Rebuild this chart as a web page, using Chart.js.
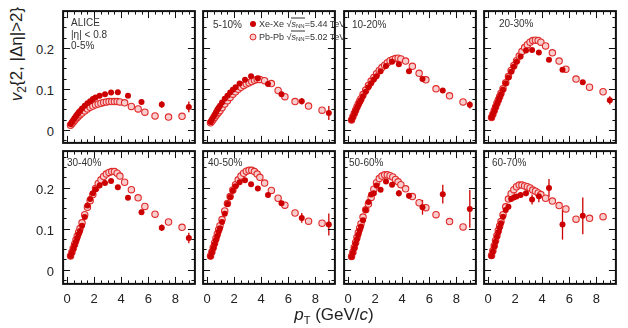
<!DOCTYPE html>
<html>
<head>
<meta charset="utf-8">
<script src="https://cdn.jsdelivr.net/npm/chart.js@4.4.1/dist/chart.umd.min.js"></script>
<style>
body { margin:0; background:#fff; width:628px; height:328px; position:relative; overflow:hidden; font-family:"Liberation Sans", Arial, sans-serif; color:#222; }
canvas { position:absolute; }
.lab { position:absolute; white-space:nowrap; line-height:1; }
.c { transform:translate(-50%,-50%); }
.r { transform:translate(-100%,-50%); text-align:right; }
.tick { font-size:13px; }
.cent { font-size:10px; color:#333; transform:translate(0,-50%); }
.leg { font-size:9px; color:#333; transform:translate(0,-50%); }
.leg sub { font-size:6px; vertical-align:-1px; }
.dot { position:absolute; width:6px; height:6px; border-radius:50%; transform:translate(-50%,-50%); }
</style>
</head>
<body>
<script>
// pT bin centres (GeV/c)
var xeBins = [0.25,0.35,0.45,0.55,0.65,0.75,0.85,0.95,1.1,1.3,1.5,1.7,1.9,2.1,2.4,2.8,3.25,3.75,4.5,5.5,7,9];
var pbBins = [0.25,0.35,0.45,0.55,0.65,0.75,0.85,0.95,1.1,1.3,1.5,1.7,1.9,2.1,2.3,2.5,2.7,2.9,3.1,3.3,3.5,3.7,3.9,4.25,4.75,5.25,5.75,6.5,7.5,8.5];

var xTickVals = [0,2,4,6,8];
var yTickVals = [0,0.1,0.2];
var yTickText = ['0','0.1','0.2'];
var centLabels = ['0-5%','5-10%','10-20%','20-30%','30-40%','40-50%','50-60%','60-70%'];

// Xe-Xe 5.44 TeV
var xe_0_5   = [0.014,0.019,0.024,0.029,0.034,0.038,0.042,0.046,0.052,0.059,0.065,0.070,0.075,0.079,0.083,0.087,0.091,0.092,0.083,0.068,0.062,0.056];
var xe_5_10  = [0.019,0.025,0.031,0.037,0.043,0.049,0.054,0.059,0.067,0.076,0.083,0.091,0.098,0.104,0.113,0.122,0.131,0.126,0.112,0.087,0.070,0.041];
var xe_10_20 = [0.024,0.031,0.039,0.046,0.053,0.060,0.067,0.073,0.082,0.093,0.104,0.114,0.123,0.131,0.143,0.156,0.166,0.160,0.143,0.124,0.096,0.061];
var xe_20_30 = [0.030,0.038,0.046,0.055,0.063,0.071,0.079,0.087,0.098,0.114,0.128,0.142,0.154,0.166,0.179,0.194,0.195,0.189,0.171,0.147,0.116,0.072];
var xe_30_40 = [0.033,0.041,0.050,0.059,0.068,0.077,0.086,0.094,0.107,0.128,0.156,0.172,0.186,0.196,0.205,0.211,0.216,0.201,0.175,0.140,0.102,0.077];
var xe_40_50 = [0.032,0.042,0.052,0.062,0.072,0.082,0.092,0.101,0.116,0.136,0.160,0.177,0.192,0.203,0.213,0.218,0.208,0.198,0.182,0.162,0.126,0.110];
var xe_50_60 = [0.031,0.041,0.052,0.063,0.074,0.085,0.095,0.105,0.120,0.145,0.165,0.183,0.186,0.205,0.195,0.215,0.207,0.186,0.180,0.152,0.184,0.148];
var xe_60_70 = [0.033,0.044,0.056,0.068,0.080,0.091,0.102,0.113,0.129,0.145,0.153,0.172,0.176,0.178,0.182,0.186,0.171,0.179,0.199,0.110,0.131,null];

var xeErr_0_5   = [0,0,0,0,0,0,0,0,0,0,0,0,0,0,0.001,0.001,0.002,0.003,0.004,0.006,0.008,0.013];
var xeErr_5_10  = [0,0,0,0,0,0,0,0,0,0,0,0,0,0,0.001,0.001,0.002,0.003,0.004,0.005,0.008,0.017];
var xeErr_10_20 = [0,0,0,0,0,0,0,0,0,0,0,0,0,0,0.001,0.002,0.002,0.003,0.004,0.005,0.005,0.009];
var xeErr_20_30 = [0,0,0,0,0,0,0,0,0,0,0,0,0,0,0.001,0.002,0.002,0.003,0.004,0.004,0.005,0.010];
var xeErr_30_40 = [0,0,0,0,0,0,0,0,0,0,0,0,0,0,0.002,0.002,0.003,0.003,0.004,0.006,0.008,0.013];
var xeErr_40_50 = [0,0,0,0,0,0,0,0,0,0,0,0,0,0,0.002,0.003,0.004,0.004,0.005,0.006,0.012,0.027];
var xeErr_50_60 = [0,0,0,0,0,0,0,0,0,0,0,0.003,0.004,0.004,0.005,0.005,0.006,0.008,0.007,0.018,0.023,0.046];
var xeErr_60_70 = [0,0,0,0,0,0,0,0,0,0,0.003,0.004,0.005,0.005,0.006,0.007,0.012,0.015,0.022,0.037,0.045,0];

// Pb-Pb 5.02 TeV
var pb_0_5   = [0.011,0.015,0.019,0.023,0.027,0.030,0.034,0.037,0.041,0.046,0.051,0.055,0.058,0.061,0.063,0.065,0.067,0.068,0.069,0.069,0.069,0.069,0.068,0.066,0.057,0.051,0.043,0.034,0.031,0.033];
var pb_5_10  = [0.017,0.021,0.026,0.030,0.035,0.039,0.043,0.047,0.054,0.063,0.071,0.079,0.087,0.093,0.099,0.104,0.108,0.112,0.115,0.118,0.121,0.123,0.123,0.120,0.113,0.096,0.081,0.069,0.058,0.048];
var pb_10_20 = [0.024,0.032,0.040,0.048,0.056,0.063,0.070,0.076,0.086,0.097,0.108,0.119,0.128,0.137,0.145,0.152,0.158,0.164,0.169,0.172,0.174,0.175,0.173,0.168,0.155,0.138,0.122,0.100,0.083,0.068];
var pb_20_30 = [0.030,0.038,0.047,0.056,0.065,0.073,0.081,0.089,0.100,0.115,0.130,0.145,0.157,0.169,0.180,0.191,0.201,0.208,0.214,0.218,0.219,0.218,0.214,0.205,0.188,0.168,0.148,0.124,0.104,0.093];
var pb_30_40 = [0.033,0.042,0.052,0.062,0.072,0.082,0.091,0.100,0.114,0.134,0.152,0.168,0.183,0.198,0.210,0.219,0.227,0.233,0.237,0.239,0.239,0.235,0.228,0.213,0.195,0.175,0.154,0.135,0.116,0.103];
var pb_40_50 = [0.033,0.043,0.054,0.065,0.076,0.087,0.097,0.107,0.122,0.143,0.161,0.178,0.194,0.207,0.219,0.228,0.235,0.240,0.242,0.242,0.239,0.233,0.225,0.211,0.193,0.174,0.157,0.138,0.118,0.113];
var pb_50_60 = [0.032,0.042,0.054,0.066,0.078,0.090,0.101,0.112,0.128,0.146,0.160,0.176,0.196,0.212,0.222,0.228,0.231,0.231,0.229,0.226,0.220,0.214,0.207,0.197,0.178,0.163,0.151,0.134,0.117,0.104];
var pb_60_70 = [0.034,0.046,0.058,0.071,0.083,0.095,0.106,0.117,0.134,0.153,0.172,0.185,0.195,0.202,0.206,0.206,0.204,0.202,0.199,0.194,0.191,0.187,0.183,0.174,0.167,0.156,0.148,0.123,0.125,0.129];

var xeSets = [xe_0_5, xe_5_10, xe_10_20, xe_20_30, xe_30_40, xe_40_50, xe_50_60, xe_60_70];
var xeErrs = [xeErr_0_5, xeErr_5_10, xeErr_10_20, xeErr_20_30, xeErr_30_40, xeErr_40_50, xeErr_50_60, xeErr_60_70];
var pbSets = [pb_0_5, pb_5_10, pb_10_20, pb_20_30, pb_30_40, pb_40_50, pb_50_60, pb_60_70];

var colLeft = [59, 199, 340, 480];
var colW = 140;
var rowTop = [7, 147];
var rowH = [140, 141];
var yRange = [[-0.032, 0.29], [-0.035, 0.289]];

function addLabel(html, x, y, cls) {
  var d = document.createElement('div');
  d.className = 'lab ' + cls;
  d.style.left = x + 'px';
  d.style.top = y + 'px';
  d.innerHTML = html;
  document.body.appendChild(d);
  return d;
}

var framePlugin = {
  id: 'frame',
  beforeDatasetsDraw(chart) {
    var ctx = chart.ctx, xs = chart.scales.x, ys = chart.scales.y;
    chart.data.datasets.forEach((ds) => {
      if (!ds.errs) return;
      ctx.save();
      ctx.strokeStyle = ds.borderColor;
      ctx.lineWidth = 1.3;
      ds.data.forEach((p, j) => {
        var e = ds.errs[j];
        if (p.y == null || !e) return;
        var px = xs.getPixelForValue(p.x);
        ctx.beginPath();
        ctx.moveTo(px, ys.getPixelForValue(p.y - e));
        ctx.lineTo(px, ys.getPixelForValue(p.y + e));
        ctx.stroke();
      });
      ctx.restore();
    });
  },
  afterDraw(chart) {
    var ctx = chart.ctx, a = chart.chartArea, xs = chart.scales.x, ys = chart.scales.y;
    ctx.save();
    ctx.strokeStyle = '#111';
    ctx.lineWidth = 1;
    ctx.beginPath();
    for (var k = 0; k <= 19; k++) {
      var v = k * 0.5;
      if (v > xs.max) break;
      var px = Math.round(xs.getPixelForValue(v)) + 0.5;
      var len = (k % 4 == 0) ? 7 : 3.5;
      ctx.moveTo(px, a.bottom); ctx.lineTo(px, a.bottom - len);
      ctx.moveTo(px, a.top); ctx.lineTo(px, a.top + len);
    }
    for (var k = -1; k <= 11; k++) {
      var v = k * 0.025;
      if (v < ys.min || v > ys.max) continue;
      var py = Math.round(ys.getPixelForValue(v)) + 0.5;
      var len = (k % 4 == 0) ? 7 : 3.5;
      ctx.moveTo(a.left, py); ctx.lineTo(a.left + len, py);
      ctx.moveTo(a.right, py); ctx.lineTo(a.right - len, py);
    }
    ctx.stroke();
    ctx.lineWidth = 2;
    ctx.strokeRect(a.left, a.top, a.right - a.left, a.bottom - a.top);
    ctx.restore();
  }
};

function makePanel(i) {
  var row = Math.floor(i / 4), col = i % 4;
  var cLeft = colLeft[col] - 1, cTop = rowTop[row] - 1;
  var cv = document.createElement('canvas');
  cv.width = colW + 2;
  cv.height = rowH[row] + 2;
  cv.style.left = cLeft + 'px';
  cv.style.top = cTop + 'px';
  cv.style.width = cv.width + 'px';
  cv.style.height = cv.height + 'px';
  document.body.appendChild(cv);

  var xeData = xeBins.map((x, j) => ({ x: x, y: xeSets[i][j] }));
  var pbData = pbBins.map((x, j) => ({ x: x, y: pbSets[i][j] }));

  var chart = new Chart(cv, {
    type: 'scatter',
    data: {
      datasets: [
        {
          label: 'Xe-Xe',
          data: xeData,
          errs: xeErrs[i],
          pointRadius: 3,
          backgroundColor: '#cc0000',
          borderColor: '#cc0000',
          borderWidth: 0
        },
        {
          label: 'Pb-Pb',
          data: pbData,
          pointRadius: 3.2,
          backgroundColor: '#f8cdcd',
          borderColor: '#e02a2a',
          borderWidth: 1.1
        }
      ]
    },
    options: {
      responsive: false,
      animation: false,
      devicePixelRatio: 1,
      events: [],
      layout: { padding: 1 },
      plugins: { legend: { display: false }, tooltip: { enabled: false } },
      scales: {
        x: { type: 'linear', min: -0.3, max: 9.45, display: false },
        y: { type: 'linear', min: yRange[row][0], max: yRange[row][1], display: false }
      }
    },
    plugins: [framePlugin]
  });

  if (row == 1) {
    xTickVals.forEach((v) => {
      addLabel(String(v), cLeft + chart.scales.x.getPixelForValue(v), 298, 'tick c');
    });
  }
  if (col == 0) {
    yTickVals.forEach((v, j) => {
      addLabel(yTickText[j], 54, cTop + chart.scales.y.getPixelForValue(v) + 1, 'tick r');
    });
  }
}

for (var i = 0; i < 8; i++) makePanel(i);

// centrality labels
var centPos = [[71,46],[213,25],[352,25],[499,24],[67,163],[208,163],[349,163],[492,163]];
centLabels.forEach((t, i) => {
  addLabel(t, centPos[i][0], centPos[i][1], 'cent');
});
addLabel('ALICE', 71, 23, 'cent');
addLabel('|&eta;| &lt; 0.8', 71, 34.5, 'cent');

// legend
var d1 = document.createElement('div');
d1.className = 'dot';
d1.style.cssText += 'left:253px;top:23.5px;background:#cc0000;';
document.body.appendChild(d1);
var d2 = document.createElement('div');
d2.className = 'dot';
d2.style.cssText += 'left:253px;top:36.5px;background:#f8cdcd;border:1.1px solid #e02a2a;width:5px;height:5px;';
document.body.appendChild(d2);
addLabel('Xe-Xe &radic;<span style="border-top:1px solid #333"><i>s</i><sub>NN</sub></span>=5.44 TeV', 259, 23.5, 'leg');
addLabel('Pb-Pb &radic;<span style="border-top:1px solid #333"><i>s</i><sub>NN</sub></span>=5.02 TeV', 259, 36.5, 'leg');

// axis titles
var yt = addLabel('<i>v</i><sub style="font-size:12px">2</sub>{2, |&Delta;&eta;|&gt;2}', 18, 54, '');
yt.style.fontSize = '17px';
yt.style.transform = 'translate(-50%,-50%) rotate(-90deg)';
var xt = addLabel('<i>p</i><sub style="font-size:11px">T</sub> (GeV/<i>c</i>)', 334, 316, 'c');
xt.style.fontSize = '17px';
</script>
</body>
</html>
